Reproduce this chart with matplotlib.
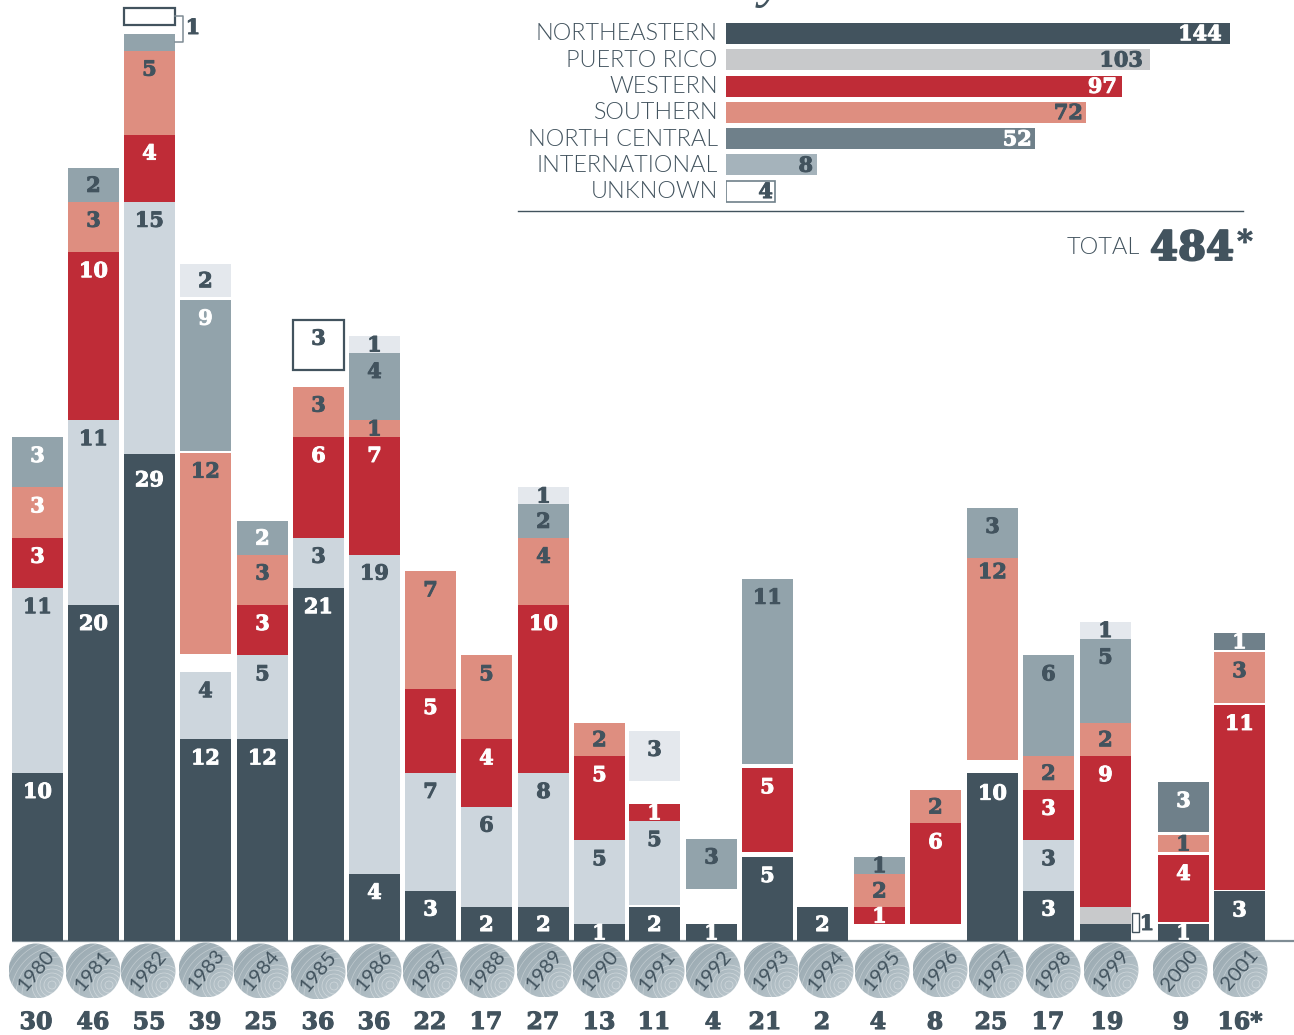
import numpy as np
import matplotlib
matplotlib.use("Agg")
import matplotlib.pyplot as plt
import matplotlib.patheffects as pe
from matplotlib.colors import LinearSegmentedColormap
from matplotlib.patches import Circle, Rectangle
from matplotlib.transforms import ScaledTranslation

# --- data, bottom to top in each column ---
years = [1980, 1981, 1982, 1983, 1984, 1985, 1986, 1987, 1988, 1989, 1990,
         1991, 1992, 1993, 1994, 1995, 1996, 1997, 1998, 1999, 2000, 2001]
totals = ["30", "46", "55", "39", "25", "36", "36", "22", "17", "27", "13",
          "11", "4", "21", "2", "4", "8", "25", "17", "19", "9", "16*"]
northeastern = [10, 20, 29, 12, 12, 21, 4, 3, 2, 2, 1, 2, 1, 5, 2, 0, 0, 10, 3, 1, 1, 3]
puerto_rico = [11, 11, 15, 4, 5, 3, 19, 7, 6, 8, 5, 5, 0, 0, 0, 0, 0, 0, 3, 1, 0, 0]
western = [3, 10, 4, 0, 3, 6, 7, 5, 4, 10, 5, 1, 0, 5, 0, 1, 6, 0, 3, 9, 4, 11]
southern = [3, 3, 5, 12, 3, 3, 1, 7, 5, 4, 2, 0, 0, 0, 0, 2, 2, 12, 2, 2, 1, 3]
north_central = [3, 2, 1, 9, 2, 0, 4, 0, 0, 2, 0, 0, 3, 11, 0, 1, 0, 3, 6, 5, 3, 1]
international = [0, 0, 0, 2, 0, 0, 1, 0, 0, 1, 0, 3, 0, 0, 0, 0, 0, 0, 0, 1, 0, 0]
unknown = [0, 0, 1, 0, 0, 3, 0, 0, 0, 0, 0, 0, 0, 0, 0, 0, 0, 0, 0, 0, 0, 0]

regions = ["NORTHEASTERN", "PUERTO RICO", "WESTERN", "SOUTHERN",
           "NORTH CENTRAL", "INTERNATIONAL", "UNKNOWN"]
region_totals = [144, 103, 97, 72, 52, 8, 4]

# --- layout ---
W, H = 1294, 1035
DARK = "#42535e"
BASE_PX, UNIT_PX, STEP_PX = 941, 16.8, 56.2
bar_left_px = [12, 68, 124, 180, 237, 293, 349, 405, 461, 518, 574,
               629, 686, 742, 797, 854, 910, 967, 1023, 1080, 1158, 1214]
x_pos = [(p + 25.5 - 37.5) / STEP_PX for p in bar_left_px]
bar_w = 51 / STEP_PX
seg_colors = [DARK, "#cdd6dd", "#bf2c37", "#de8e80", "#92a3ab", "#e4e8ed", "white"]
seg_series = [northeastern, puerto_rico, western, southern, north_central, international, unknown]
label_colors = ["white", DARK, "white", DARK, DARK, DARK, DARK]
# white gaps below a segment, (year, series index): units
gaps = {(1982, 6): 0.54, (1983, 3): 1.07, (1983, 4): 0.1, (1983, 5): 0.15, (1985, 6): 0.98,
        (1991, 1): 0.14, (1991, 5): 1.37, (1992, 4): 2.1,
        (1993, 2): 0.28, (1993, 4): 0.28, (1995, 2): 1.0, (1996, 2): 1.0, (1997, 3): 0.78,
        (2000, 2): 0.12, (2000, 3): 0.17, (2000, 4): 0.17,
        (2001, 2): 0.05, (2001, 3): 0.14, (2001, 4): 0.14}
white_labels = {(1980, 3), (1980, 4), (1983, 4), (1984, 4), (2000, 4), (2001, 4)}
no_label = {(1982, 4), (1982, 6), (1999, 0), (1999, 1)}
dark_nc = {2000, 2001}
label_shift = {(1982, 0): 0.45, (1997, 0): 0.1, (1997, 3): -0.3, (2001, 0): 0.05}
label_font = "DejaVu Serif"
thin_font = ["Lato", "Open Sans", "DejaVu Sans"]


def heavy(color, width=0.7):
    return [pe.withStroke(linewidth=width, foreground=color)]


fig = plt.figure(figsize=(W / 100, H / 100), dpi=100, facecolor="white")

# main columns: one value unit = UNIT_PX, one column = STEP_PX
ax = fig.add_axes([0, 0, 1, 1])
ax.set_xlim(-37.5 / STEP_PX, (W - 37.5) / STEP_PX)
ax.set_ylim(-(H - BASE_PX) / UNIT_PX, BASE_PX / UNIT_PX)
ax.axis("off")

ax.plot([-25.5 / STEP_PX, (W - 37.5) / STEP_PX], [0, 0], color="#7f8c94", lw=1.6, zorder=1,
        solid_capstyle="butt")

for i, year in enumerate(years):
    bottom = 0.0
    for s, series in enumerate(seg_series):
        val = series[i]
        if val == 0:
            continue
        bottom += gaps.get((year, s), 0)
        color = seg_colors[s]
        if s == 4 and year in dark_nc:
            color = "#6f808a"
        if year == 1999 and s == 1:
            color = "#c8c9cb"
        ax.bar(x_pos[i], val, bar_w, bottom=bottom, color=color, align="center", zorder=2,
               edgecolor=DARK if s == 6 else "none", linewidth=1.6 if s == 6 else 0)
        top = bottom + val
        if (year, s) not in no_label:
            lc = "white" if (year, s) in white_labels else label_colors[s]
            y = top - min(1.13, val / 2 + 0.05) - label_shift.get((year, s), 0)
            ax.text(x_pos[i], y, str(val), ha="center", va="center", color=lc,
                    family=label_font, weight="bold", fontsize=15, zorder=3,
                    path_effects=heavy(lc))
        bottom = top

# overlay in pixel coordinates for medallions, callouts and captions
deco = fig.add_axes([0, 0, 1, 1], facecolor="none")
deco.axis("off")

med_centers = [36, 93, 148, 206, 261, 318, 374, 430, 487, 544, 600, 657, 713, 771,
               826, 882, 940, 996, 1053, 1111, 1180, 1240]
med_y = [971, 971, 971, 970, 971, 972, 971, 971, 971, 970, 971, 971, 971, 970,
         971, 971, 970, 971, 971, 970, 970, 970]
med_cmap = LinearSegmentedColormap.from_list("med", ["#95a5ad", "#bdc9cf"])
gx, gy = np.meshgrid(np.linspace(0, 1, 32), np.linspace(0, 1, 32))
grad = gx + gy
for year, cx, cy in zip(years, med_centers, med_y):
    r = 27.5
    clip = Circle((cx, cy), r, transform=deco.transData)
    im = deco.imshow(grad, extent=(cx - r, cx + r, cy + r, cy - r), cmap=med_cmap,
                     aspect="auto", zorder=2)
    im.set_clip_path(clip)
    for rad in [4, 8, 12, 16, 20]:
        c = Circle((cx + 16, cy + 14), rad, fill=False, ec="white", lw=0.5, alpha=0.4, zorder=3)
        deco.add_patch(c)
        c.set_clip_path(clip)
    for rad in [38, 44, 49, 55, 60, 66]:
        c = Circle((cx + 24, cy + 24), rad, fill=False, ec="white", lw=0.5, alpha=0.35, zorder=3)
        deco.add_patch(c)
        c.set_clip_path(clip)
    deco.text(cx, cy, str(year), rotation=50, rotation_mode="anchor", ha="center", va="center",
              color=DARK, family=thin_font, fontsize=14.5, zorder=4)

total_x = [36, 93, 149, 205, 261, 318, 374, 430, 486, 543, 599, 654,
           713, 765, 822, 878, 935, 991, 1048, 1107, 1181, 1240]
for lab, cx in zip(totals, total_x):
    deco.text(cx, 1022, lab, ha="center", va="center", color=DARK, family=label_font,
              weight="bold", fontsize=17, path_effects=heavy(DARK, 0.8))

# 1982 callout
deco.plot([175, 183, 183, 175], [16, 16, 42, 42], color="#7f8c94", lw=1.1, zorder=4)
deco.text(193, 28, "1", ha="center", va="center", color=DARK, family=label_font, weight="bold",
          fontsize=15, path_effects=heavy(DARK))
# 1999 callout
deco.add_patch(Rectangle((1131.5, 913), 7, 19, fc="white", ec=DARK, lw=1.0, zorder=4))
deco.text(1147, 924, "1", ha="center", va="center", color=DARK, family=label_font, weight="bold",
          fontsize=15, path_effects=heavy(DARK))

# cut-off title descender and totals block
deco.text(772, -4, "y", ha="center", va="baseline", color=DARK, family="Liberation Serif",
          style="italic", fontsize=40)
deco.plot([518, 1243], [211, 211], color=DARK, lw=1.0)
deco.text(1140, 248, "TOTAL", ha="right", va="center", color=DARK, family=thin_font, weight=300, fontsize=17)
deco.text(1192, 249, "484", ha="center", va="center", color=DARK, family=label_font, weight="bold", fontsize=29,
          path_effects=heavy(DARK, 1.4))
deco.text(1245, 243, "*", ha="center", va="center", color=DARK, family=label_font, weight="bold", fontsize=22,
          path_effects=heavy(DARK, 0.6))
deco.set_xlim(0, W)
deco.set_ylim(H, 0)

# summary bars: the printed bars are not proportional to their numbers,
# so the x axis runs through the lengths
knot_val = np.array([0, 4, 8, 52, 72, 97, 103, 144], dtype=float)
knot_px = np.array([0, 49, 91, 309, 360, 396, 424, 504], dtype=float)
sm = fig.add_axes([726 / W, 1 - 204.4 / H, 504 / W, 184.1 / H], facecolor="none")
sm.set_xscale("function", functions=(lambda v: np.interp(v, knot_val, knot_px),
                                     lambda p: np.interp(p, knot_px, knot_val)))
summary_colors = [DARK, "#c8c9cb", "#bf2c37", "#de8e80", "#6f808a", "#a5b3bb", "white"]
summary_text = ["white", DARK, "white", DARK, "white", DARK, DARK]
value_pad = [-8, -7, -5, -3, -3, -4, -2]
ypos = np.arange(len(regions))
sm.barh(ypos, region_totals, height=0.8, color=summary_colors,
        edgecolor=["none"] * 6 + ["#6f808a"], linewidth=[0] * 6 + [1.2])
sm.set_xlim(0, 144)
sm.set_ylim(6.5, -0.5)
sm.set_yticks(ypos, regions)
sm.set_xticks([])
sm.tick_params(axis="y", length=0, pad=6, labelsize=16.8, labelcolor=DARK)
for lab in sm.get_yticklabels():
    lab.set_family(thin_font)
    lab.set_weight(300)
    lab.set_transform(lab.get_transform() + ScaledTranslation(0, 1.5 / 100, fig.dpi_scale_trans))
for sp in sm.spines.values():
    sp.set_visible(False)
for y, v, tc, dx in zip(ypos, region_totals, summary_text, value_pad):
    sm.annotate(str(v), (v, y + 0.03), xytext=(dx, 0), textcoords="offset pixels", ha="right", va="center",
                color=tc, family=label_font, weight="bold", fontsize=15, path_effects=heavy(tc))

fig.savefig("out.png", dpi=100)
plt.close(fig)
